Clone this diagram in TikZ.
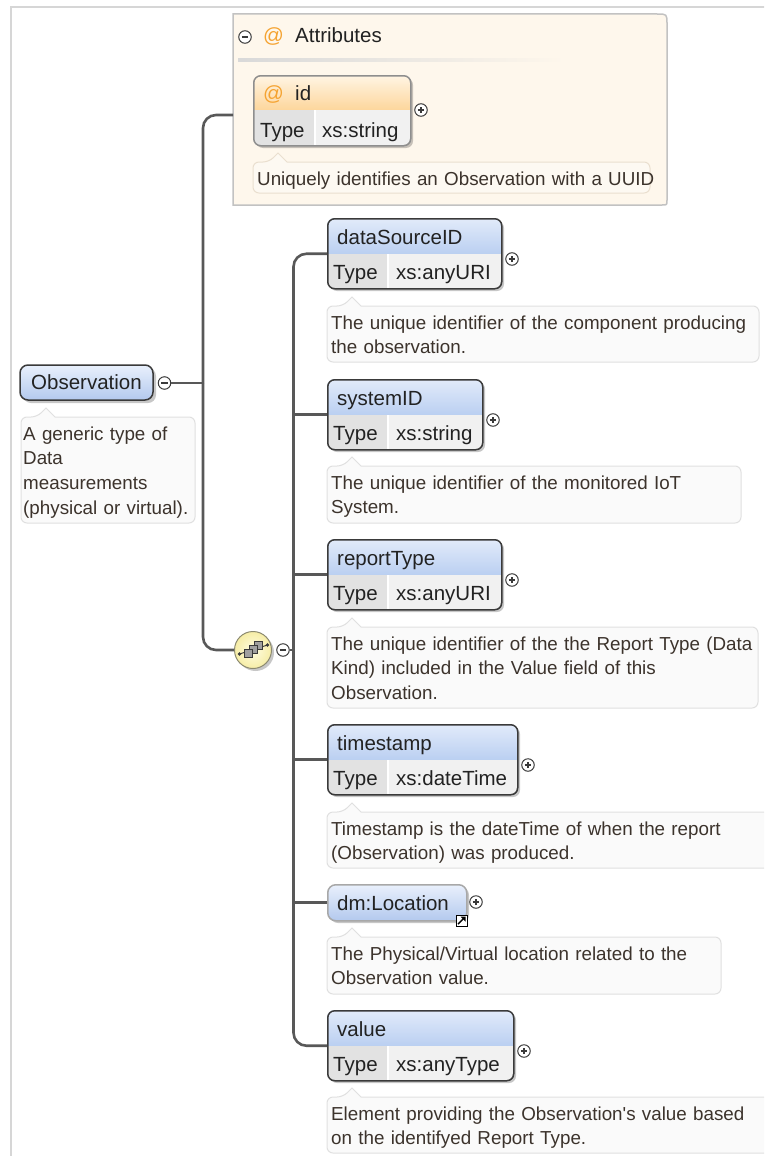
\documentclass[tikz,border=0pt]{standalone}
\usepackage{fontspec}
\setmainfont{Liberation Sans}

\definecolor{hdtop}{HTML}{E2EBFA}
\definecolor{hdbot}{HTML}{BACFF1}
\definecolor{obstop}{HTML}{E9F0FC}
\definecolor{obsbot}{HTML}{B3C9EE}
\definecolor{cellT}{HTML}{E2E2E2}
\definecolor{cellV}{HTML}{F1F1F1}
\definecolor{edge}{HTML}{3A3A3A}
\definecolor{locedge}{HTML}{A8A8A8}
\definecolor{idedge}{HTML}{8E8E8E}
\definecolor{wirec}{HTML}{585858}
\definecolor{descfill}{HTML}{FAFAFA}
\definecolor{descedge}{HTML}{E0E0E0}
\definecolor{attrfill}{HTML}{FEF7EC}
\definecolor{attredge}{HTML}{C2C2C2}
\definecolor{attrdfill}{HTML}{FDF9F2}
\definecolor{attrdedge}{HTML}{EADFCF}
\definecolor{atsign}{HTML}{F5A331}
\definecolor{idtop}{HTML}{FFF5E4}
\definecolor{idbot}{HTML}{FDD69C}
\definecolor{seqin}{HTML}{FFFDE2}
\definecolor{seqout}{HTML}{F6EDA6}
\definecolor{seqedge}{HTML}{8C8A70}
\definecolor{sqc}{HTML}{A0A0A0}
\definecolor{txtc}{HTML}{222222}
\definecolor{desccol}{HTML}{3C332C}
\definecolor{framec}{HTML}{D6D6D6}

% element with a title bar and a "Type" row: name, left, top, width, title, type
\newcommand{\xelem}[6]{%
  \fill[shadowfill, rounded corners=7] (#2+3,#3+3) rectangle (#2+#4+3,#3+73);
  \begin{scope}
    \clip[rounded corners=7] (#2,#3) rectangle (#2+#4,#3+70);
    \shade[top color=hdtop, bottom color=hdbot] (#2,#3) rectangle (#2+#4,#3+36);
    \fill[cellT] (#2,#3+36) rectangle (#2+61,#3+70);
    \fill[cellV] (#2+61,#3+36) rectangle (#2+#4,#3+70);
  \end{scope}
  \draw[white, line width=1.2] (#2+61,#3+36) -- (#2+61,#3+70);
  \node[elbox, minimum width=#4, minimum height=70, anchor=north west] (#1) at (#2,#3) {};
  \node[nametxt, anchor=base west] (#1-title) at (#2+10,#3+26) {#5};
  \node[nametxt, anchor=base west] (#1-key) at (#2+6,#3+61) {Type};
  \node[nametxt, anchor=base west] (#1-type) at (#2+69,#3+61) {#6};
  \node[plusbtn] (#1-btn) at (#2+#4+11,#3+41) {};
}

% annotation bubble outline: [style] name, left, top, width, height
\newcommand{\xdesc}[6][descbox]{%
  \filldraw[#1] (#3,#4+#6/2) [rounded corners=6] -- (#3,#4) -- (#3+16,#4)
    [sharp corners] -- (#3+25,#4-9) -- (#3+34,#4)
    [rounded corners=6] -- (#3+#5,#4) -- (#3+#5,#4+#6) -- (#3,#4+#6) -- cycle;
}
% annotation text: name, left, top, width, text
\newcommand{\xdesctext}[5]{%
  \node[desctxt, text width=#4+60, anchor=base west] (#1) at (#2+4,#3+23) {#5};
}

\begin{document}
\begin{tikzpicture}[x=1pt, y=-1pt,
  wire/.style={draw=wirec, line width=2.6},
  roundwire/.style={wire, rounded corners=13},
  shadowfill/.style={fill=black, opacity=0.22},
  elbox/.style={rectangle, draw=edge, line width=1.5, rounded corners=7, inner sep=0},
  nametxt/.style={font=\fontsize{20.5}{24}\selectfont, text=txtc, inner sep=0},
  desctxt/.style={font=\fontsize{18.8}{24.7}\selectfont, text=desccol, inner sep=0, align=left},
  descbox/.style={fill=descfill, draw=descedge, line width=1},
  attrdesc/.style={fill=attrdfill, draw=attrdedge, line width=1},
  btn/.style={circle, draw=edge, fill=white, line width=1, minimum size=12.5, inner sep=0},
  plusbtn/.style={btn, path picture={
      \draw[edge, line width=1.1]
        ([xshift=-3.2pt]path picture bounding box.center) -- ([xshift=3.2pt]path picture bounding box.center)
        ([yshift=-3.2pt]path picture bounding box.center) -- ([yshift=3.2pt]path picture bounding box.center);}},
  minusbtn/.style={btn, path picture={
      \draw[edge, line width=1.1]
        ([xshift=-3.2pt]path picture bounding box.center) -- ([xshift=3.2pt]path picture bounding box.center);}}
]
\path[use as bounding box] (0,0) rectangle (764,1156);
\clip (0,0) rectangle (764,1156);
\fill[white] (0,0) rectangle (764,1156);

% panel frame
\draw[framec, line width=2] (11,1170) -- (11,7) -- (780,7);

% attributes group
\filldraw[fill=attrfill, draw=attredge, line width=1.5]
  (233,205) -- (233,14) -- (657,14) .. controls (667,14) .. (667,24)
  -- (667,200) .. controls (667,205) .. (662,205) -- cycle;
\node[minusbtn] (attr-btn) at (245,37) {};
\node[nametxt, text=atsign, anchor=base west] (attr-at) at (263,43) {@};
\node[nametxt, anchor=base west] (attr-title) at (295,43) {Attributes};
\shade[left color=black!15, right color=attrfill] (238,59) rectangle (565,61.5);

% attribute id
\fill[shadowfill, rounded corners=7] (256,78) rectangle (413,148);
\begin{scope}
  \clip[rounded corners=7] (253,75) rectangle (410,145);
  \shade[top color=idtop, bottom color=idbot] (253,75) rectangle (410,110);
  \fill[cellT] (253,110) rectangle (315,145);
  \fill[cellV] (315,110) rectangle (410,145);
\end{scope}
\draw[white, line width=1.2] (315,110) -- (315,145);
\node[elbox, draw=idedge, minimum width=157, minimum height=70, anchor=north west] (id) at (253,75) {};
\node[nametxt, text=atsign, anchor=base west] (id-at) at (263,100) {@};
\node[nametxt, anchor=base west] (id-title) at (295,100) {id};
\node[nametxt, anchor=base west] (id-key) at (260,137) {Type};
\node[nametxt, anchor=base west] (id-type) at (322,137) {xs:string};
\node[plusbtn] (id-btn) at (421,110) {};
\xdesc[attrdesc]{id-doc}{253}{162}{397}{31}
\xdesctext{id-doc}{253}{162}{397}{Uniquely identifies an Observation with a UUID}

% root element
\fill[shadowfill, rounded corners=8] (23,368) rectangle (156,403);
\node[elbox, rounded corners=8, top color=obstop, bottom color=obsbot,
  minimum width=133, minimum height=35, nametxt] (obs) at (86.5,382.5) {Observation};
\node[minusbtn] (obs-btn) at (164.5,383) {};
\xdesc{obs-doc}{21}{417}{174}{106}
\xdesctext{obs-doc}{19}{417}{174}{A generic type of\\Data\\measurements\\(physical or virtual).}

% sequence compositor
\fill[shadowfill] (255.5,652.5) circle (18.5);
\node[circle, draw=seqedge, line width=1, inner color=seqin, outer color=seqout,
  minimum size=37, inner sep=0] (seq) at (253,650) {};
\draw[edge, line width=1] (239.5,654) -- (267.5,645);
\fill[edge] (239.5,654) circle (1.9) (267.5,645) circle (1.9);
\filldraw[fill=sqc, draw=edge, line width=0.7] (254.6,641.4) rectangle (262.2,649);
\filldraw[fill=sqc, draw=edge, line width=0.7] (249.6,645.4) rectangle (257.2,653);
\filldraw[fill=sqc, draw=edge, line width=0.7] (244.6,649.4) rectangle (252.2,657);
\node[minusbtn] (seq-btn) at (283,650) {};

% child elements
\xelem{ds}{327}{218}{174}{dataSourceID}{xs:anyURI}
\xdesc{ds-doc}{327}{306}{432}{56}
\xdesctext{ds-doc}{327}{306}{432}{The unique identifier of the component producing\\the observation.}

\xelem{sys}{327}{379}{155}{systemID}{xs:string}
\xdesc{sys-doc}{327}{466}{414}{57}
\xdesctext{sys-doc}{327}{466}{414}{The unique identifier of the monitored IoT\\System.}

\xelem{rt}{327}{539}{174}{reportType}{xs:anyURI}
\xdesc{rt-doc}{327}{627}{431}{81}
\xdesctext{rt-doc}{327}{627}{431}{The unique identifier of the the Report Type (Data\\Kind) included in the Value field of this\\Observation.}

\xelem{ts}{327}{724}{190}{timestamp}{xs:dateTime}
\xdesc{ts-doc}{327}{812}{460}{56}
\xdesctext{ts-doc}{327}{812}{460}{Timestamp is the dateTime of when the report\\(Observation) was produced.}

% element reference
\fill[shadowfill, rounded corners=8] (330,887) rectangle (469,923);
\node[elbox, draw=locedge, rounded corners=8, top color=obstop, bottom color=obsbot,
  minimum width=139, minimum height=36, anchor=north west] (loc) at (327,884) {};
\node[nametxt, anchor=base west] (loc-title) at (337,910) {dm:Location};
\node[plusbtn] (loc-btn) at (476,902) {};
\node[draw=black, fill=white, line width=1, minimum size=11, inner sep=0] (loc-ref) at (461.5,920.5) {};
\draw[black, line width=1.4] ([shift={(-3.5,3.5)}]loc-ref.center) -- ([shift={(2,-2)}]loc-ref.center);
\fill[black] ([shift={(4,-4)}]loc-ref.center) -- ([shift={(4,1)}]loc-ref.center)
  -- ([shift={(-1,-4)}]loc-ref.center) -- cycle;
\xdesc{loc-doc}{327}{937}{394}{57}
\xdesctext{loc-doc}{327}{937}{394}{The Physical/Virtual location related to the\\Observation value.}

\xelem{val}{327}{1010}{186}{value}{xs:anyType}
\xdesc{val-doc}{327}{1097}{460}{56}
\xdesctext{val-doc}{327}{1097}{460}{Element providing the Observation\textquotesingle s value based\\on the identifyed Report Type.}

% connectors
\coordinate (hub) at (203,383);
\coordinate (attr-in) at (233,115);
\coordinate (kids) at (293.5,650);
\draw[wire] (obs-btn.east) -- (hub);
\draw[roundwire] (hub) |- (attr-in);
\draw[roundwire] (hub) |- (seq.west);
\draw[wire] (seq-btn.east) -- (kids);
\draw[roundwire] (kids) |- (ds.west);
\draw[roundwire] (kids) |- (val.west);
\draw[wire] (kids |- sys.west) -- (sys.west);
\draw[wire] (kids |- rt.west) -- (rt.west);
\draw[wire] (kids |- ts.west) -- (ts.west);
\draw[wire] (kids |- loc.west) -- (loc.west);
\end{tikzpicture}
\end{document}
